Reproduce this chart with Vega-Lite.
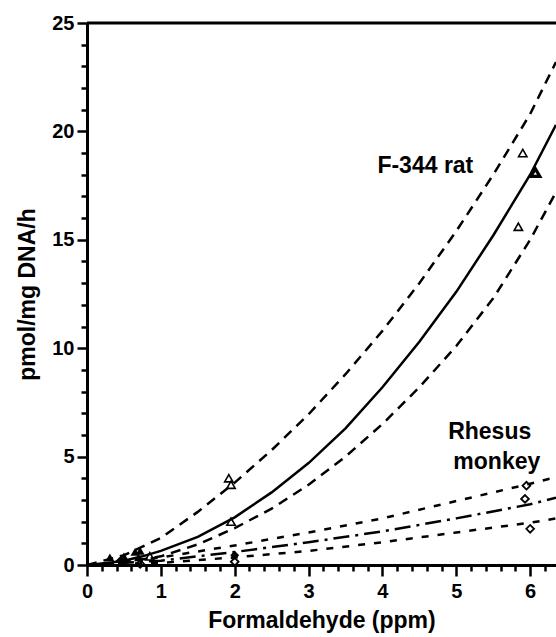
{
  "$schema": "https://vega.github.io/schema/vega-lite/v6.json",
  "width": 469,
  "height": 542,
  "autosize": {"type": "none"},
  "padding": {"left": 87, "top": 23, "right": 0, "bottom": 72},
  "background": "white",
  "config": {
    "view": {"stroke": null},
    "font": "Liberation Sans",
    "axis": {"grid": false, "tickWidth": 2.5, "tickColor": "black", "domainColor": "black", "domainWidth": 3,
      "labelFont": "Liberation Sans", "labelFontSize": 20, "labelFontWeight": "bold", "labelColor": "black", "labelFlush": false, "labelOverlap": false,
      "titleFont": "Liberation Sans", "titleFontSize": 23, "titleFontWeight": "bold", "titleColor": "black"},
    "axisX": {"tickCount": 32, "labelExpr": "datum.value % 1 === 0 ? format(datum.value, 'd') : ''",
      "tickSize": {"condition": {"test": "datum.value % 1 === 0", "value": 11}, "value": 6},
      "labelPadding": 5, "titlePadding": 8},
    "axisY": {"tickCount": 25, "labelExpr": "datum.value % 5 === 0 ? format(datum.value, 'd') : ''",
      "tickSize": {"condition": {"test": "datum.value % 5 === 0", "value": 10}, "value": 6},
      "labelPadding": 3, "titlePadding": 12}
  },
  "datasets": {
    "curves": [
      {"curve": "rat_mean", "x": 0, "y": 0}, {"curve": "rat_mean", "x": 0.3, "y": 0.1}, {"curve": "rat_mean", "x": 0.5, "y": 0.2}, {"curve": "rat_mean", "x": 0.75, "y": 0.4}, {"curve": "rat_mean", "x": 1, "y": 0.65}, {"curve": "rat_mean", "x": 1.5, "y": 1.3}, {"curve": "rat_mean", "x": 2, "y": 2.2}, {"curve": "rat_mean", "x": 2.5, "y": 3.35}, {"curve": "rat_mean", "x": 3, "y": 4.7}, {"curve": "rat_mean", "x": 3.5, "y": 6.3}, {"curve": "rat_mean", "x": 4, "y": 8.2}, {"curve": "rat_mean", "x": 4.5, "y": 10.3}, {"curve": "rat_mean", "x": 5, "y": 12.6}, {"curve": "rat_mean", "x": 5.5, "y": 15.2}, {"curve": "rat_mean", "x": 6, "y": 18.0}, {"curve": "rat_mean", "x": 6.35, "y": 20.3},
      {"curve": "rat_upper", "x": 0, "y": 0}, {"curve": "rat_upper", "x": 0.5, "y": 0.45}, {"curve": "rat_upper", "x": 1, "y": 1.25}, {"curve": "rat_upper", "x": 1.5, "y": 2.45}, {"curve": "rat_upper", "x": 2, "y": 3.8}, {"curve": "rat_upper", "x": 2.5, "y": 5.3}, {"curve": "rat_upper", "x": 3, "y": 6.95}, {"curve": "rat_upper", "x": 3.5, "y": 8.8}, {"curve": "rat_upper", "x": 4, "y": 10.8}, {"curve": "rat_upper", "x": 4.5, "y": 13.0}, {"curve": "rat_upper", "x": 5, "y": 15.4}, {"curve": "rat_upper", "x": 5.5, "y": 18.0}, {"curve": "rat_upper", "x": 6, "y": 20.8}, {"curve": "rat_upper", "x": 6.35, "y": 23.2},
      {"curve": "rat_lower", "x": 0, "y": 0}, {"curve": "rat_lower", "x": 0.5, "y": 0.12}, {"curve": "rat_lower", "x": 1, "y": 0.4}, {"curve": "rat_lower", "x": 1.5, "y": 0.95}, {"curve": "rat_lower", "x": 2, "y": 1.7}, {"curve": "rat_lower", "x": 2.5, "y": 2.6}, {"curve": "rat_lower", "x": 3, "y": 3.7}, {"curve": "rat_lower", "x": 3.5, "y": 5.0}, {"curve": "rat_lower", "x": 4, "y": 6.5}, {"curve": "rat_lower", "x": 4.5, "y": 8.2}, {"curve": "rat_lower", "x": 5, "y": 10.1}, {"curve": "rat_lower", "x": 5.5, "y": 12.3}, {"curve": "rat_lower", "x": 6, "y": 15.0}, {"curve": "rat_lower", "x": 6.35, "y": 17.2},
      {"curve": "monkey_mean", "x": 0, "y": 0}, {"curve": "monkey_mean", "x": 1, "y": 0.2}, {"curve": "monkey_mean", "x": 2, "y": 0.6}, {"curve": "monkey_mean", "x": 3, "y": 1.05}, {"curve": "monkey_mean", "x": 4, "y": 1.55}, {"curve": "monkey_mean", "x": 5, "y": 2.15}, {"curve": "monkey_mean", "x": 6, "y": 2.8}, {"curve": "monkey_mean", "x": 6.35, "y": 3.1},
      {"curve": "monkey_upper", "x": 0, "y": 0}, {"curve": "monkey_upper", "x": 1, "y": 0.35}, {"curve": "monkey_upper", "x": 2, "y": 0.9}, {"curve": "monkey_upper", "x": 3, "y": 1.5}, {"curve": "monkey_upper", "x": 4, "y": 2.15}, {"curve": "monkey_upper", "x": 5, "y": 2.95}, {"curve": "monkey_upper", "x": 6, "y": 3.75}, {"curve": "monkey_upper", "x": 6.35, "y": 4.05},
      {"curve": "monkey_lower", "x": 0, "y": 0}, {"curve": "monkey_lower", "x": 1, "y": 0.1}, {"curve": "monkey_lower", "x": 2, "y": 0.35}, {"curve": "monkey_lower", "x": 3, "y": 0.65}, {"curve": "monkey_lower", "x": 4, "y": 1.05}, {"curve": "monkey_lower", "x": 5, "y": 1.5}, {"curve": "monkey_lower", "x": 6, "y": 1.95}, {"curve": "monkey_lower", "x": 6.35, "y": 2.15}
    ],
    "points": [
      {"species": "rat", "set": "open", "x": 0.85, "y": 0.4},
      {"species": "rat", "set": "open", "x": 1.92, "y": 4.0},
      {"species": "rat", "set": "open", "x": 1.95, "y": 3.7},
      {"species": "rat", "set": "open", "x": 1.95, "y": 2.0},
      {"species": "rat", "set": "open", "x": 5.9, "y": 19.0},
      {"species": "rat", "set": "open", "x": 5.84, "y": 15.6},
      {"species": "rat", "set": "bold", "x": 6.07, "y": 18.1},
      {"species": "rat", "set": "filled", "x": 0.31, "y": 0.35},
      {"species": "rat", "set": "filled", "x": 0.5, "y": 0.4},
      {"species": "rat", "set": "filled", "x": 0.65, "y": 0.6},
      {"species": "rat", "set": "filled", "x": 0.72, "y": 0.65},
      {"species": "rat", "set": "filled", "x": 0.7, "y": 0.35},
      {"species": "monkey", "set": "open", "x": 5.95, "y": 3.66},
      {"species": "monkey", "set": "open", "x": 5.93, "y": 3.05},
      {"species": "monkey", "set": "open", "x": 6.0, "y": 1.67},
      {"species": "monkey", "set": "open", "x": 0.72, "y": 0.05},
      {"species": "monkey", "set": "open", "x": 2.0, "y": 0.15},
      {"species": "monkey", "set": "filled", "x": 2.0, "y": 0.45},
      {"species": "monkey", "set": "filled", "x": 0.45, "y": 0.2}
    ]
  },
  "layer": [
    {
      "data": {"name": "curves"},
      "transform": [{"filter": "datum.curve === 'rat_mean'"}],
      "mark": {"type": "line", "color": "black", "strokeWidth": 2.5, "clip": true},
      "encoding": {
        "x": {"field": "x", "type": "quantitative", "scale": {"domain": [0, 6.35], "nice": false, "zero": false}, "axis": {"title": "Formaldehyde (ppm)"}},
        "y": {"field": "y", "type": "quantitative", "scale": {"domain": [0, 25], "nice": false}, "axis": {"title": "pmol/mg DNA/h"}}
      }
    },
    {
      "data": {"name": "curves"},
      "transform": [{"filter": "datum.curve === 'rat_upper' || datum.curve === 'rat_lower'"}],
      "mark": {"type": "line", "color": "black", "strokeWidth": 2.5, "strokeDash": [10, 7], "clip": true},
      "encoding": {
        "x": {"field": "x", "type": "quantitative", "title": "Formaldehyde (ppm)"},
        "y": {"field": "y", "type": "quantitative", "title": "pmol/mg DNA/h"},
        "detail": {"field": "curve"}
      }
    },
    {
      "data": {"name": "curves"},
      "transform": [{"filter": "datum.curve === 'monkey_upper' || datum.curve === 'monkey_lower'"}],
      "mark": {"type": "line", "color": "black", "strokeWidth": 2.5, "strokeDash": [7, 9], "clip": true},
      "encoding": {
        "x": {"field": "x", "type": "quantitative", "title": "Formaldehyde (ppm)"},
        "y": {"field": "y", "type": "quantitative", "title": "pmol/mg DNA/h"},
        "detail": {"field": "curve"}
      }
    },
    {
      "data": {"name": "curves"},
      "transform": [{"filter": "datum.curve === 'monkey_mean'"}],
      "mark": {"type": "line", "color": "black", "strokeWidth": 2.5, "strokeDash": [16, 6, 3, 6], "clip": true},
      "encoding": {
        "x": {"field": "x", "type": "quantitative", "title": "Formaldehyde (ppm)"},
        "y": {"field": "y", "type": "quantitative", "title": "pmol/mg DNA/h"}
      }
    },
    {
      "data": {"name": "points"},
      "transform": [{"filter": "datum.species === 'rat' && datum.set === 'open'"}],
      "mark": {"type": "point", "shape": "triangle-up", "filled": false, "color": "black", "strokeWidth": 1.6, "size": 70, "opacity": 1},
      "encoding": {"x": {"field": "x", "type": "quantitative", "title": "Formaldehyde (ppm)"}, "y": {"field": "y", "type": "quantitative", "title": "pmol/mg DNA/h"}}
    },
    {
      "data": {"name": "points"},
      "transform": [{"filter": "datum.species === 'rat' && datum.set === 'bold'"}],
      "mark": {"type": "point", "shape": "triangle-up", "filled": false, "color": "black", "strokeWidth": 3.2, "size": 80, "opacity": 1},
      "encoding": {"x": {"field": "x", "type": "quantitative", "title": "Formaldehyde (ppm)"}, "y": {"field": "y", "type": "quantitative", "title": "pmol/mg DNA/h"}}
    },
    {
      "data": {"name": "points"},
      "transform": [{"filter": "datum.species === 'rat' && datum.set === 'filled'"}],
      "mark": {"type": "point", "shape": "triangle-up", "filled": true, "color": "black", "size": 80, "opacity": 1},
      "encoding": {"x": {"field": "x", "type": "quantitative", "title": "Formaldehyde (ppm)"}, "y": {"field": "y", "type": "quantitative", "title": "pmol/mg DNA/h"}}
    },
    {
      "data": {"name": "points"},
      "transform": [{"filter": "datum.species === 'monkey' && datum.set === 'open'"}],
      "mark": {"type": "point", "shape": "diamond", "filled": false, "color": "black", "strokeWidth": 1.8, "size": 60, "opacity": 1},
      "encoding": {"x": {"field": "x", "type": "quantitative", "title": "Formaldehyde (ppm)"}, "y": {"field": "y", "type": "quantitative", "title": "pmol/mg DNA/h"}}
    },
    {
      "data": {"name": "points"},
      "transform": [{"filter": "datum.species === 'monkey' && datum.set === 'filled'"}],
      "mark": {"type": "point", "shape": "diamond", "filled": true, "color": "black", "size": 80, "opacity": 1},
      "encoding": {"x": {"field": "x", "type": "quantitative", "title": "Formaldehyde (ppm)"}, "y": {"field": "y", "type": "quantitative", "title": "pmol/mg DNA/h"}}
    },
    {
      "data": {"values": [{}]},
      "mark": {"type": "rule", "color": "black", "strokeWidth": 3},
      "encoding": {"y": {"datum": 25, "title": "pmol/mg DNA/h"}}
    },
    {
      "data": {"values": [{}]},
      "mark": {"type": "text", "text": "F-344 rat", "align": "right", "baseline": "alphabetic", "font": "Liberation Sans", "fontSize": 23, "fontWeight": "bold", "color": "black"},
      "encoding": {"x": {"datum": 5.23, "title": "Formaldehyde (ppm)"}, "y": {"datum": 18.1, "title": "pmol/mg DNA/h"}}
    },
    {
      "data": {"values": [{}]},
      "mark": {"type": "text", "text": "Rhesus", "align": "left", "baseline": "alphabetic", "font": "Liberation Sans", "fontSize": 23, "fontWeight": "bold", "color": "black"},
      "encoding": {"x": {"datum": 4.89, "title": "Formaldehyde (ppm)"}, "y": {"datum": 5.82, "title": "pmol/mg DNA/h"}}
    },
    {
      "data": {"values": [{}]},
      "mark": {"type": "text", "text": "monkey", "align": "left", "baseline": "alphabetic", "font": "Liberation Sans", "fontSize": 23, "fontWeight": "bold", "color": "black"},
      "encoding": {"x": {"datum": 4.96, "title": "Formaldehyde (ppm)"}, "y": {"datum": 4.44, "title": "pmol/mg DNA/h"}}
    }
  ]
}
